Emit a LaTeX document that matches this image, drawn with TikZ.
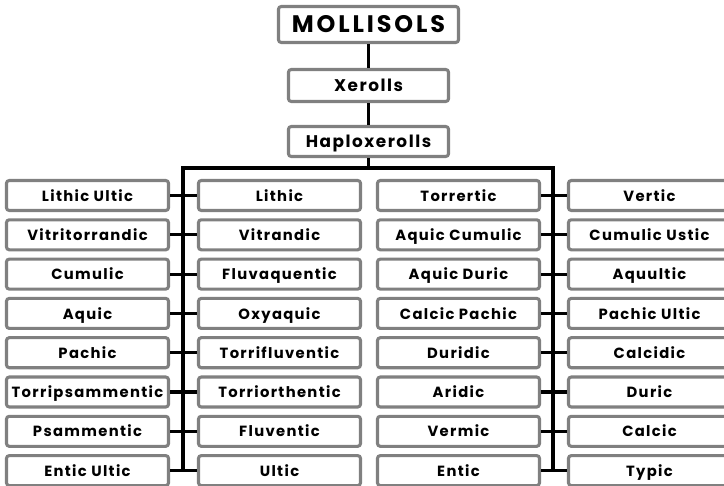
\documentclass[tikz,border=0pt]{standalone}
\usepackage{fontspec}
\setmainfont{Poppins}
\newfontfamily\boxfont[LetterSpace=9]{Poppins}
\newfontfamily\titlefont[LetterSpace=12]{Poppins}
\usetikzlibrary{positioning}
\definecolor{boxgray}{RGB}{128,128,128}

\begin{document}
\begin{tikzpicture}[x=0.025cm,y=-0.025cm,
  box/.style={draw=boxgray,line width=2.2pt,rounded corners=2pt,fill=white,
    minimum width=4.05cm,minimum height=0.75cm,inner sep=0pt,
    text height=8.5pt,text depth=0.5pt,
    font=\boxfont\bfseries\fontsize{10.5}{12}\selectfont},
  link/.style={line width=2.2pt,black}]
\useasboundingbox (0,0) rectangle (724,486);

\node[box,minimum width=4.5cm,minimum height=0.9cm,text height=11.5pt,text depth=0.5pt,
  font=\titlefont\bfseries\fontsize{17}{19}\selectfont] (mollisols) at (368.5,24.5) {MOLLISOLS};
\node[box,minimum width=4.0cm,minimum height=0.8cm,text height=9pt,text depth=0.6pt,
  font=\boxfont\bfseries\fontsize{12}{14}\selectfont] (xerolls) at (368.5,85.5) {Xerolls};
\node[box,minimum width=4.0cm,minimum height=0.75cm,text height=9pt,text depth=0.6pt,
  font=\boxfont\bfseries\fontsize{12}{14}\selectfont] (haplo) at (368.5,141.5) {Haploxerolls};
\draw[link] (mollisols) -- (xerolls);
\draw[link] (xerolls) -- (haplo);

\coordinate (busL) at (183,168);
\coordinate (busR) at (553,168);
\draw[link] (haplo) -- (haplo |- busL);

% subgroups, four columns
\foreach \a/\b/\c/\d [count=\i] in {
  Lithic Ultic/Lithic/Torrertic/Vertic,
  Vitritorrandic/Vitrandic/Aquic Cumulic/Cumulic Ustic,
  Cumulic/Fluvaquentic/Aquic Duric/Aquultic,
  Aquic/Oxyaquic/Calcic Pachic/Pachic Ultic,
  Pachic/Torrifluventic/Duridic/Calcidic,
  Torripsammentic/Torriorthentic/Aridic/Duric,
  Psammentic/Fluventic/Vermic/Calcic,
  Entic Ultic/Ultic/Entic/Typic} {
  \node[box] (a\i) at (87.5,{195.5+(\i-1)*39.3}) {\a};
  \node[box] (b\i) at (279.5,{195.5+(\i-1)*39.3}) {\b};
  \node[box] (c\i) at (458.5,{195.5+(\i-1)*39.3}) {\c};
  \node[box] (d\i) at (649.5,{195.5+(\i-1)*39.3}) {\d};
  \draw[link] (a\i) -- (b\i);
  \draw[link] (c\i) -- (d\i);
}
\draw[link] (busL |- a8) -- (busL) -- (busR) -- (busR |- c8);
\end{tikzpicture}
\end{document}
